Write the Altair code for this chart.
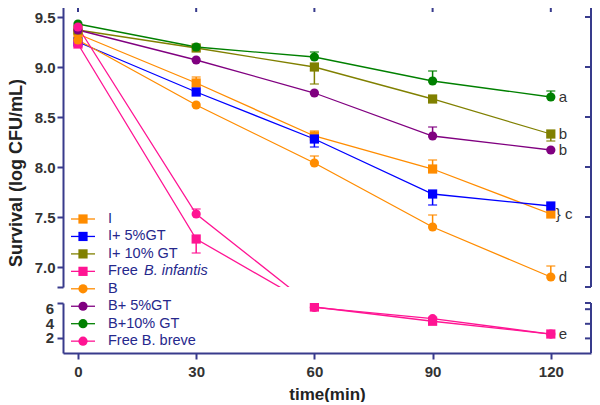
import altair as alt
import pandas as pd

# ---------------- data ----------------
times = [0, 30, 60, 90, 120]
names = ["I", "I+  5%GT", "I+ 10% GT", "Free B. infantis",
         "B", "B+ 5%GT", "B+10% GT", "Free B. breve"]
colors = ["#FF8C00", "#0000FF", "#808000", "#FF1493",
          "#FF8C00", "#800080", "#008000", "#FF1493"]
shapes = ["square", "square", "square", "square",
          "circle", "circle", "circle", "circle"]

v_I = [9.33, 8.84, 8.31, 7.98, 7.53]
v_I5 = [9.25, 8.75, 8.28, 7.73, 7.61]
v_I10 = [9.37, 9.19, 9.00, 8.68, 8.33]
v_inf = [9.23, 7.28, 6.30, 4.35, 2.60]
v_B = [9.27, 8.62, 8.04, 7.40, 6.90]
v_B5 = [9.37, 9.07, 8.74, 8.31, 8.17]
v_B10 = [9.43, 9.20, 9.10, 8.86, 8.70]
v_brv = [9.40, 7.53, 6.25, 4.70, 2.60]
values = [v_I, v_I5, v_I10, v_inf, v_B, v_B5, v_B10, v_brv]

up_I = [0, 0.06, 0.05, 0.09, 0]
up_I5 = [0, 0, 0, 0, 0]
up_I10 = [0, 0, 0, 0, 0]
up_inf = [0, 0, 0, 0, 0]
up_B = [0, 0, 0.07, 0.12, 0.11]
up_B5 = [0, 0, 0, 0.09, 0]
up_B10 = [0, 0, 0.05, 0.10, 0.06]
up_brv = [0, 0.05, 0, 0, 0]
err_up = [up_I, up_I5, up_I10, up_inf, up_B, up_B5, up_B10, up_brv]

dn_I = [0, 0, 0, 0, 0]
dn_I5 = [0, 0, 0.08, 0.11, 0]
dn_I10 = [0, 0, 0.17, 0, 0.07]
dn_inf = [0, 0.14, 0, 0, 0]
dn_B = [0, 0, 0, 0, 0]
dn_B5 = [0, 0, 0, 0, 0]
dn_B10 = [0, 0, 0, 0, 0]
dn_brv = [0, 0, 0, 0, 0]
err_dn = [dn_I, dn_I5, dn_I10, dn_inf, dn_B, dn_B5, dn_B10, dn_brv]

letters = ["c", "", "b", "e", "d", "b", "a", ""]

top_ticks = [6.8, 7.0, 7.5, 8.0, 8.5, 9.0, 9.5]
bot_ticks = [2, 4, 6, 6.85]
bot_labels = [2, 4, 6]

# ---------------- layout constants ----------------
W, H1, H2, GAP = 528, 281, 50, 16
TOP_LO, TOP_HI = 6.8, 9.61
BOT_LO, BOT_HI = 0.0, 6.85
NAVY = "#383b8c"
FONT = "Liberation Sans"
LABEL = "#333333"
MS = 85


def top_equiv(v):
    # value in top-panel units that lands where v sits in the lower panel
    px_below = GAP + (BOT_HI - v) * H2 / (BOT_HI - BOT_LO)
    return TOP_LO - px_below / (H1 / (TOP_HI - TOP_LO))


rows = []
for s, nm in enumerate(names):
    for j, t in enumerate(times):
        v = values[s][j]
        rows.append(dict(series=nm, time=t, value=v,
                         yl=v if v >= TOP_LO else top_equiv(v),
                         up=err_up[s][j], dn=err_dn[s][j],
                         hi=v + err_up[s][j], lo=v - err_dn[s][j],
                         letter=letters[s] if t == times[-1] else ""))
df = pd.DataFrame(rows)

# top-panel line table: keep points up to the first one below the break
keep = []
for nm in names:
    sub = df[df.series == nm]
    below_seen = False
    for _, r in sub.iterrows():
        if r.value >= TOP_LO:
            keep.append(r)
        elif not below_seen:
            keep.append(r)
            below_seen = True
line_top = pd.DataFrame(keep)

top_df = df[df.value >= TOP_LO]
bot_df = df[df.value <= BOT_HI]


def err_parts(d):
    e = d[(d.up > 0) | (d.dn > 0)]
    c = pd.concat([
        d[d.up > 0].assign(cy=lambda x: x.hi),
        d[d.dn > 0].assign(cy=lambda x: x.lo),
    ])
    return e, c


xsc = alt.Scale(domain=[-3.8, 130.2], nice=False, zero=False)
ysc_top = alt.Scale(domain=[TOP_LO, TOP_HI], nice=False, zero=False)
ysc_bot = alt.Scale(domain=[BOT_LO, BOT_HI], nice=False, zero=False)
col = alt.Color("series:N", scale=alt.Scale(domain=names, range=colors), legend=None)
shp = alt.Shape("series:N", scale=alt.Scale(domain=names, range=shapes), legend=None)


def one():
    return alt.Chart(pd.DataFrame({"k": [0]}))


def panel_layers(ysc, yaxis, xaxis, line_df, yfield, pt_df, H, rticks):
    X = alt.X("time:Q", scale=xsc, axis=xaxis)
    layers = [alt.Chart(line_df).mark_line(clip=True, strokeWidth=1.3).encode(
        x=X, y=alt.Y(f"{yfield}:Q", scale=ysc, axis=yaxis), color=col, detail="series:N")]
    e, c = err_parts(pt_df)
    if len(e):
        layers.append(alt.Chart(e).mark_rule(clip=True, strokeWidth=1.5).encode(
            x="time:Q", y=alt.Y("lo:Q"), y2="hi:Q", color=col))
        layers.append(alt.Chart(c).mark_tick(clip=True, orient="horizontal", size=9, thickness=1.6).encode(
            x="time:Q", y=alt.Y("cy:Q"), color=col))
    layers.append(alt.Chart(pt_df).mark_point(clip=True, filled=True, size=MS, opacity=1).encode(
        x="time:Q", y=alt.Y("value:Q"), color=col, shape=shp))
    lett = pt_df[pt_df.letter != ""]
    lm = lett[lett.letter != "c"]
    lc = lett[lett.letter == "c"]
    if len(lm):
        layers.append(alt.Chart(lm).mark_text(
            clip=True, align="left", baseline="middle", dx=8, fontSize=15, font=FONT, color=LABEL).encode(
            x="time:Q", y="value:Q", text="letter:N"))
    if len(lc):
        layers.append(alt.Chart(lc).mark_text(
            clip=True, align="left", baseline="middle", dx=5, fontSize=15, font=FONT, color=LABEL).encode(
            x="time:Q", y="value:Q", text=alt.value("} c")))
    layers.append(one().mark_rule(color=NAVY, strokeWidth=2).encode(
        x=alt.value(W), y=alt.value(0), y2=alt.value(H)))
    layers.append(alt.Chart(pd.DataFrame({"v": rticks})).mark_rule(color=NAVY, strokeWidth=2).encode(
        x=alt.value(W - 6), x2=alt.value(W), y="v:Q"))
    return layers


top_axis = alt.Axis(values=top_ticks, title=None, labelOverlap=False,
                    labelExpr="datum.value < 6.9 ? '' : format(datum.value, '.1f')")
top_layers = panel_layers(ysc_top, top_axis, None, line_top, "yl", top_df, H1, top_ticks)

# top border with inward ticks
top_layers.append(one().mark_rule(color=NAVY, strokeWidth=2).encode(
    x=alt.value(0), x2=alt.value(W), y=alt.value(0)))
top_layers.append(alt.Chart(pd.DataFrame({"t": times})).mark_rule(color=NAVY, strokeWidth=2).encode(
    x="t:Q", y=alt.value(0), y2=alt.value(6)))

# y title
top_layers.append(one().mark_text(angle=270, font=FONT, fontSize=18, fontWeight="bold",
                                  color="#222222", baseline="middle", align="center").encode(
    x=alt.value(-46), y=alt.value(167), text=alt.value("Survival (log CFU/mL)")))

# legend
LEG_Y0, LEG_DY = 213, 17.45
for i, (nm, c, s) in enumerate(zip(names, colors, shapes)):
    yy = LEG_Y0 + i * LEG_DY
    top_layers.append(one().mark_rule(color=c, strokeWidth=1.3).encode(
        x=alt.value(8), x2=alt.value(32), y=alt.value(yy)))
    top_layers.append(one().mark_point(shape=s, filled=True, size=MS, color=c, opacity=1).encode(
        x=alt.value(20), y=alt.value(yy)))
    if nm == "Free B. infantis":
        top_layers.append(one().mark_text(align="left", baseline="middle", font=FONT, fontSize=14.5,
                                          color="#26288c").encode(
            x=alt.value(45), y=alt.value(yy), text=alt.value("Free")))
        top_layers.append(one().mark_text(align="left", baseline="middle", font=FONT, fontSize=14.5,
                                          fontStyle="italic", color="#26288c").encode(
            x=alt.value(81), y=alt.value(yy), text=alt.value("B. infantis")))
    else:
        top_layers.append(one().mark_text(align="left", baseline="middle", font=FONT, fontSize=14.5,
                                          color="#26288c").encode(
            x=alt.value(45), y=alt.value(yy), text=alt.value(nm)))

top = alt.layer(*top_layers).properties(width=W, height=H1)

bot_axis = alt.Axis(values=bot_ticks, title=None, labels=False)
x_axis = alt.Axis(values=times, title="time(min)", labelPadding=5, titlePadding=7)
bot_layers = panel_layers(ysc_bot, bot_axis, x_axis, bot_df, "value", bot_df, H2, bot_ticks)
# tick labels of the lower panel (tightly packed, so drawn as text on the scale)
bot_layers.append(alt.Chart(pd.DataFrame({"v": bot_labels})).mark_text(
    align="right", baseline="middle", dx=-9, font=FONT, fontSize=15, fontWeight="bold",
    color=LABEL).encode(x=alt.value(0), y="v:Q", text=alt.Text("v:Q", format="d")))
bottom = alt.layer(*bot_layers).properties(width=W, height=H2)

chart = alt.vconcat(top, bottom, spacing=GAP, bounds="flush").properties(
    padding={"left": 0, "top": -3, "right": 0, "bottom": 0}
).configure_view(stroke=None).configure_axis(
    domainColor=NAVY, domainWidth=2, tickColor=NAVY, tickWidth=2, tickSize=6,
    labelFont=FONT, labelFontSize=15, labelFontWeight="bold", labelColor=LABEL,
    titleFont=FONT, titleFontSize=17, titleFontWeight="bold", titleColor="#222222",
    grid=False,
)

chart.save("out.html", embed_options={"renderer": "svg", "actions": False})
